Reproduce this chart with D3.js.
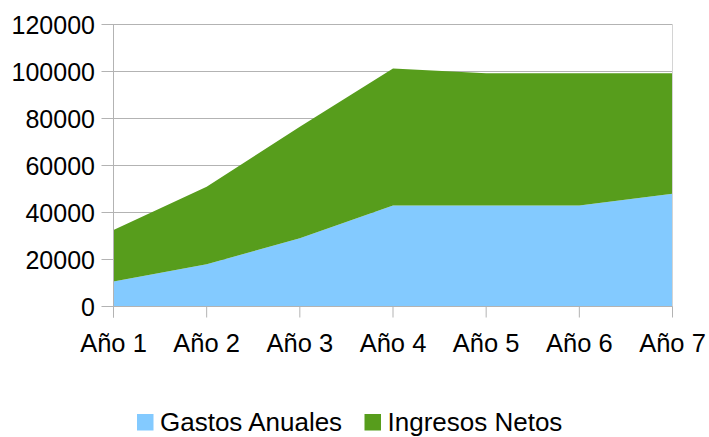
<!DOCTYPE html>
<html>
<head>
<meta charset="utf-8">
<script src="https://cdn.jsdelivr.net/npm/d3@7"></script>
<style>
  html, body { margin: 0; padding: 0; background: #fff; }
  svg { display: block; font-family: "Liberation Sans", Arial, sans-serif; }
</style>
</head>
<body>
<svg id="chart" width="709" height="437"></svg>
<script>
// Stacked area: yearly expenses plus net income
const categories = ["Año 1", "Año 2", "Año 3", "Año 4", "Año 5", "Año 6", "Año 7"];
const gastosAnuales = [10600, 18000, 29000, 43000, 43000, 43000, 48000];
const ingresosNetos = [22000, 33000, 47500, 58300, 56300, 56300, 51300];
const seriesNames = ["Gastos Anuales", "Ingresos Netos"];
const seriesColors = ["#83caff", "#579d1c"];
const yTicks = [0, 20000, 40000, 60000, 80000, 100000, 120000];

const svg = d3.select("#chart");
const plotLeft = 113.5, plotRight = 672.5, plotTop = 24.5, plotBottom = 306.5;

const x = d3.scalePoint().domain(categories).range([plotLeft, plotRight]);
const y = d3.scaleLinear().domain([0, 120000]).range([plotBottom, plotTop]);

const rows = categories.map((c, i) => ({
  cat: c,
  [seriesNames[0]]: gastosAnuales[i],
  [seriesNames[1]]: ingresosNetos[i]
}));
const stacked = d3.stack().keys(seriesNames)(rows);

// horizontal gridlines with short ticks left of the axis
svg.append("g").selectAll("line").data(yTicks).join("line")
  .attr("x1", plotLeft - 12).attr("x2", plotRight)
  .attr("y1", d => y(d)).attr("y2", d => y(d))
  .attr("stroke", "#b3b3b3").attr("stroke-width", 1);

// stacked areas
const area = d3.area()
  .x(d => x(d.data.cat))
  .y0(d => y(d[0]))
  .y1(d => y(d[1]));
svg.append("g").selectAll("path").data(stacked).join("path")
  .attr("d", area)
  .attr("fill", (d, i) => seriesColors[i]);

// axis lines and plot frame edge
svg.append("line").attr("x1", plotLeft).attr("x2", plotLeft).attr("y1", plotTop).attr("y2", plotBottom + 11)
  .attr("stroke", "#b3b3b3");
svg.append("line").attr("x1", plotLeft).attr("x2", plotRight).attr("y1", plotBottom).attr("y2", plotBottom)
  .attr("stroke", "#b3b3b3");
svg.append("line").attr("x1", plotRight).attr("x2", plotRight).attr("y1", plotTop).attr("y2", plotBottom)
  .attr("stroke", "#d4d4d4");

// category ticks
svg.append("g").selectAll("line").data(categories).join("line")
  .attr("x1", d => x(d)).attr("x2", d => x(d))
  .attr("y1", plotBottom).attr("y2", plotBottom + 11)
  .attr("stroke", "#b3b3b3");

// y tick labels
svg.append("g").selectAll("text").data(yTicks).join("text")
  .attr("x", 95).attr("y", d => y(d))
  .attr("dy", "0.36em")
  .attr("text-anchor", "end")
  .attr("font-size", 25)
  .attr("fill", "#000")
  .text(d => d);

// x tick labels
svg.append("g").selectAll("text").data(categories).join("text")
  .attr("x", d => x(d)).attr("y", 352)
  .attr("text-anchor", "middle")
  .attr("font-size", 25.5)
  .attr("fill", "#000")
  .text(d => d);

// legend
const legendX = [137, 364.5];
const lg = svg.append("g").selectAll("g").data(seriesNames).join("g")
  .attr("transform", (d, i) => `translate(${legendX[i]},414)`);
lg.append("rect").attr("width", 16.5).attr("height", 16.5)
  .attr("fill", (d, i) => seriesColors[i]);
lg.append("text").attr("x", 23).attr("y", 16.5)
  .attr("font-size", 26).attr("fill", "#000")
  .text(d => d);
</script>
</body>
</html>
